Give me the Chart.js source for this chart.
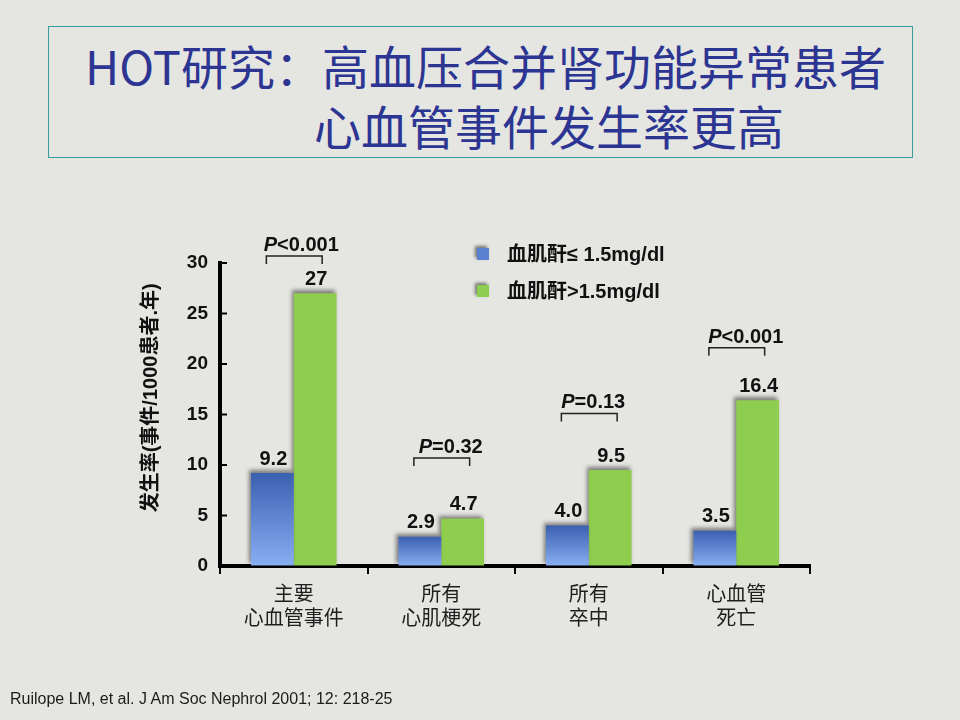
<!DOCTYPE html>
<html>
<head>
<meta charset="utf-8">
<script src="https://cdn.jsdelivr.net/npm/chart.js@4.4.1/dist/chart.umd.min.js"></script>
<style>
  html, body { margin: 0; padding: 0; }
  body {
    width: 960px; height: 720px; position: relative; overflow: hidden;
    background: #e5e5e2;
  }
  #title-box {
    position: absolute; left: 48px; top: 26px; width: 863px; height: 130px;
    border: 1px solid #3a9c9c;
  }
  .title-line {
    position: absolute; color: #2c3592; white-space: nowrap;
    font-family: "Noto Sans CJK SC", sans-serif; font-size: 47px; line-height: 56px;
  }
  #line1 { right: 26px; top: 10px; }
  #line2 { left: 265px; top: 70px; }
  #chart { position: absolute; left: 0; top: 0; }
  #source {
    position: absolute; left: 10px; top: 690px; color: #1c1c1c;
    font-family: Arial, "Liberation Sans", sans-serif; font-size: 16px;
  }
</style>
</head>
<body>
<div id="title-box">
  <div class="title-line" id="line1">HOT研究：高血压合并肾功能异常患者</div>
  <div class="title-line" id="line2">心血管事件发生率更高</div>
</div>
<canvas id="chart" width="960" height="720"></canvas>
<div id="source">Ruilope LM, et al. J Am Soc Nephrol 2001; 12: 218-25</div>

<script>
// Chart data
const categories = [['主要', '心血管事件'], ['所有', '心肌梗死'], ['所有', '卒中'], ['心血管', '死亡']];
const seriesNames = ['血肌酐≤ 1.5mg/dl', '血肌酐>1.5mg/dl'];
const normalCreatinine = [9.2, 2.9, 4.0, 3.5];
const highCreatinine = [27, 4.7, 9.5, 16.4];
const valueLabels = [['9.2', '2.9', '4.0', '3.5'], ['27', '4.7', '9.5', '16.4']];
const pValues = ['<0.001', '=0.32', '=0.13', '<0.001'];
const yTicks = [0, 5, 10, 15, 20, 25, 30];

const FONT_STACK = 'Arial, "Liberation Sans", "Noto Sans CJK SC", sans-serif';
const BOLD = 'bold 20px ' + FONT_STACK;
const GREEN = '#8fcd4f';

function blueGradient(context) {
  const chart = context.chart;
  if (!chart.chartArea || context.type !== 'data') return '#6e95e0';
  const y = chart.scales.y;
  const top = y.getPixelForValue(context.raw);
  const bottom = y.getPixelForValue(0);
  const g = chart.ctx.createLinearGradient(0, top, 0, bottom);
  g.addColorStop(0, '#3b60b0');
  g.addColorStop(1, '#88aef3');
  return g;
}

// soft shadow on the bars (upper-left, like the slide)
const barShadow = {
  id: 'barShadow',
  beforeDatasetsDraw(chart) {
    const ctx = chart.ctx;
    ctx.save();
    ctx.shadowColor = 'rgba(0,0,0,0.45)';
    ctx.shadowBlur = 4;
    ctx.shadowOffsetX = -2;
    ctx.shadowOffsetY = -3;
  },
  afterDatasetsDraw(chart) {
    chart.ctx.restore();
  }
};

// value labels, p-value brackets, legend, inner y ticks
const annotations = {
  id: 'annotations',
  afterDraw(chart, args, opts) {
    const ctx = chart.ctx;
    const y = chart.scales.y;
    const left = chart.chartArea.left;
    ctx.save();

    // y ticks pointing into the plot
    ctx.strokeStyle = '#000';
    ctx.lineWidth = 2;
    yTicks.forEach(v => {
      const py = y.getPixelForValue(v);
      ctx.beginPath();
      ctx.moveTo(left, py);
      ctx.lineTo(left + 7, py);
      ctx.stroke();
    });

    // value labels
    ctx.fillStyle = '#111';
    ctx.font = BOLD;
    ctx.textAlign = 'center';
    ctx.textBaseline = 'bottom';
    chart.data.datasets.forEach((ds, di) => {
      chart.getDatasetMeta(di).data.forEach((bar, i) => {
        ctx.fillText(valueLabels[di][i], bar.x + 1, bar.y - 4);
      });
    });

    // brackets with p values
    const blueBars = chart.getDatasetMeta(0).data;
    const greenBars = chart.getDatasetMeta(1).data;
    ctx.strokeStyle = '#222';
    ctx.lineWidth = 1.5;
    pValues.forEach((p, i) => {
      const x1 = blueBars[i].x - 6;
      const x2 = greenBars[i].x + 7;
      const by = y.getPixelForValue(opts.bracketAt[i]);
      ctx.beginPath();
      ctx.moveTo(x1, by + 8);
      ctx.lineTo(x1, by);
      ctx.lineTo(x2, by);
      ctx.lineTo(x2, by + 8);
      ctx.stroke();

      ctx.textBaseline = 'alphabetic';
      ctx.textAlign = 'left';
      ctx.font = 'italic ' + BOLD;
      const wP = ctx.measureText('P').width;
      ctx.font = BOLD;
      const wRest = ctx.measureText(p).width;
      const tx = (x1 + x2) / 2 + opts.textShift[i] - (wP + wRest) / 2;
      ctx.font = 'italic ' + BOLD;
      ctx.fillText('P', tx, by - 5);
      ctx.font = BOLD;
      ctx.fillText(p, tx + wP, by - 5);
    });

    // legend
    const items = [
      { color: '#5a82d0', text: seriesNames[0], y: opts.legendY[0] },
      { color: GREEN, text: seriesNames[1], y: opts.legendY[1] }
    ];
    ctx.textAlign = 'left';
    ctx.textBaseline = 'middle';
    items.forEach(item => {
      ctx.save();
      ctx.shadowColor = 'rgba(0,0,0,0.5)';
      ctx.shadowBlur = 3;
      ctx.shadowOffsetX = -2;
      ctx.shadowOffsetY = -2;
      ctx.fillStyle = item.color;
      ctx.fillRect(opts.legendX, item.y - 6, 12, 12);
      ctx.restore();
      ctx.fillStyle = '#111';
      ctx.font = BOLD;
      ctx.fillText(item.text, opts.legendX + 30, item.y + 1);
    });

    ctx.restore();
  }
};

const chart = new Chart(document.getElementById('chart'), {
  type: 'bar',
  data: {
    labels: categories,
    datasets: [
      {
        label: seriesNames[0],
        data: normalCreatinine,
        backgroundColor: blueGradient,
        borderWidth: 0,
        categoryPercentage: 0.58,
        barPercentage: 1.0
      },
      {
        label: seriesNames[1],
        data: highCreatinine,
        backgroundColor: GREEN,
        borderWidth: 0,
        categoryPercentage: 0.58,
        barPercentage: 1.0
      }
    ]
  },
  options: {
    responsive: false,
    maintainAspectRatio: false,
    animation: false,
    layout: { padding: { left: 130, right: 150, top: 263, bottom: 0 } },
    plugins: {
      legend: { display: false },
      tooltip: { enabled: false },
      annotations: {
        bracketAt: [30.7, 10.7, 15.1, 21.6],
        textShift: [7, 9, 4, 9],
        legendX: 477,
        legendY: [254, 291]
      }
    },
    scales: {
      x: {
        afterFit: s => { s.height = 154; },
        grid: { offset: true, drawOnChartArea: false, color: '#000', lineWidth: 2, tickLength: 8 },
        border: { display: true, color: '#000', width: 4 },
        ticks: {
          color: '#1e1e1e',
          padding: 7,
          font: { family: '"Noto Sans CJK SC", sans-serif', size: 20, lineHeight: 1.2 }
        }
      },
      y: {
        min: 0,
        max: 30,
        afterFit: s => { s.width = 90; },
        grid: { drawOnChartArea: false, drawTicks: false },
        border: { display: true, color: '#000', width: 4 },
        ticks: {
          stepSize: 5,
          padding: 12,
          color: '#111',
          font: { family: 'Arial, "Liberation Sans", sans-serif', size: 19, weight: 'bold' }
        },
        title: {
          display: true,
          // leading spaces lift the rotated title a little, as on the slide
          text: '      发生率(事件/1000患者.年)',
          color: '#111',
          padding: { top: 9, bottom: 0 },
          font: { family: FONT_STACK, size: 20, weight: 'bold' }
        }
      }
    }
  },
  plugins: [barShadow, annotations]
});
</script>
</body>
</html>
